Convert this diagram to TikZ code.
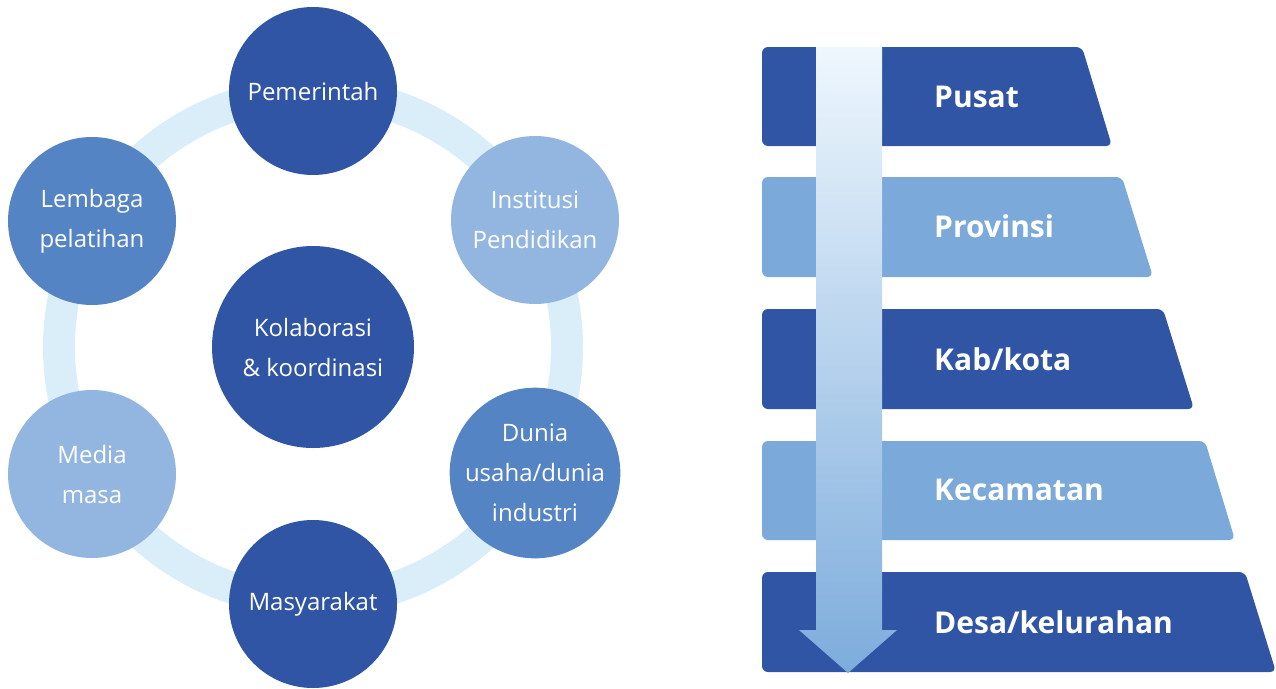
\documentclass[tikz,border=0pt]{standalone}
\usepackage{fontspec}
\setmainfont{Open Sans}
\definecolor{deepblue}{HTML}{2F55A4}
\definecolor{midblue}{HTML}{5584C4}
\definecolor{paleblue}{HTML}{93B6E0}
\definecolor{ringblue}{HTML}{DAEEF9}
\definecolor{barblue}{HTML}{7AA9DA}
\definecolor{arrowtop}{HTML}{EEF7FD}
\definecolor{arrowmid}{HTML}{B6DCF4}
\definecolor{arrowbot}{HTML}{7DACDC}

\begin{document}
\begin{tikzpicture}[x=1pt,y=-1pt,
    actor/.style={circle,minimum size=168pt,inner sep=0pt,text=white,align=center,
      font=\fontsize{24}{40}\selectfont},
    level/.style={rounded corners=6pt},
    levellabel/.style={anchor=west,text=white,inner sep=0pt,
      font=\bfseries\fontsize{30}{36}\selectfont}]
  \useasboundingbox (0,0) rectangle (1276,688);

  % stakeholder ring
  \begin{scope}
    \coordinate (hub) at (313,347);
    \draw[ringblue,line width=32pt] (hub) circle[radius=254pt];
    \node[actor,fill=deepblue,minimum size=202pt] (kolaborasi) at (hub) {Kolaborasi\\\& koordinasi};
    \node[actor,fill=deepblue] (pemerintah) at (313,91) {Pemerintah};
    \node[actor,fill=paleblue] (institusi) at (535,220) {Institusi\\Pendidikan};
    \node[actor,fill=midblue] (dunia) at (535,473) {Dunia\\usaha/dunia\\industri};
    \node[actor,fill=deepblue] (masyarakat) at (313,604) {Masyarakat};
    \node[actor,fill=paleblue] (media) at (92,474) {Media\\masa};
    \node[actor,fill=midblue] (lembaga) at (92,221) {Lembaga\\pelatihan};
  \end{scope}

  % government levels
  \begin{scope}
    \fill[level,deepblue] (762,47) -- (1082,47) -- (1112,146) -- (762,146) -- cycle;
    \fill[level,barblue] (762,177) -- (1122,177) -- (1153,277) -- (762,277) -- cycle;
    \fill[level,deepblue] (762,309) -- (1163,309) -- (1194,409) -- (762,409) -- cycle;
    \fill[level,barblue] (762,441) -- (1205,441) -- (1235,540) -- (762,540) -- cycle;
    \fill[level,deepblue] (762,572) -- (1245,572) -- (1276,672) -- (762,672) -- cycle;

    \shade[top color=arrowtop,middle color=arrowmid,bottom color=arrowbot]
      (816,47) -- (882,47) -- (882,630) -- (897,630) -- (848,673)
      -- (799,630) -- (816,630) -- cycle;

    \node[levellabel] (pusat) at (934,97) {Pusat};
    \node[levellabel] (provinsi) at (934,226) {Provinsi};
    \node[levellabel] (kabkota) at (934,359) {Kab/kota};
    \node[levellabel] (kecamatan) at (934,490) {Kecamatan};
    \node[levellabel] (desa) at (934,622) {Desa/kelurahan};
  \end{scope}
\end{tikzpicture}
\end{document}
